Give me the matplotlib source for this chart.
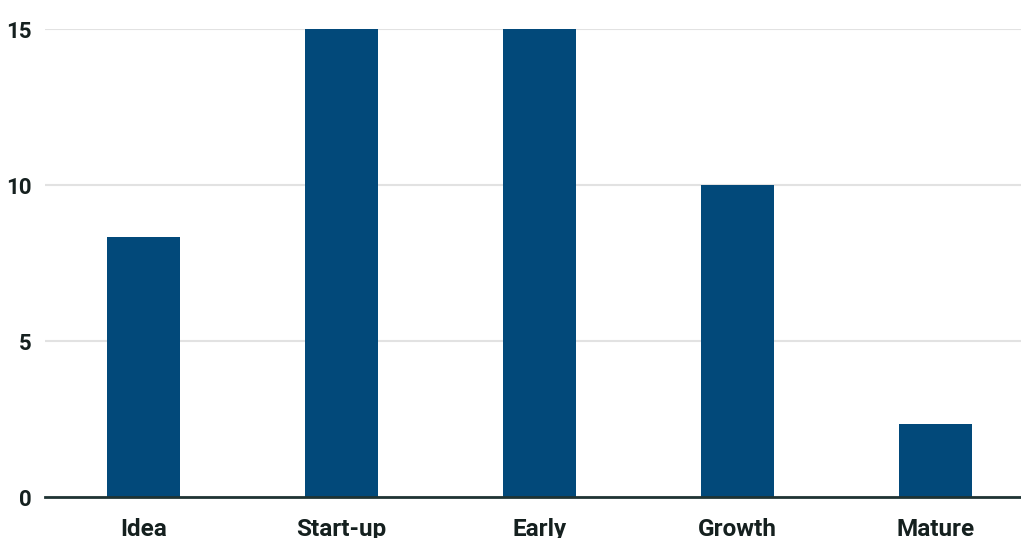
import matplotlib.pyplot as plt

stages = ["Idea", "Start-up", "Early", "Growth", "Mature"]
values = [8.33, 15, 15, 10, 2.33]
yticks = [0, 5, 10, 15]

plt.rcParams['font.family'] = ['Roboto', 'DejaVu Sans']

fig = plt.figure(figsize=(10.21, 5.38), dpi=100)
# plot area runs a little past the right edge of the canvas
ax = fig.add_axes([45 / 1021, 41 / 538, (1034 - 45) / 1021, (497 - 29) / 538])

ax.bar(range(len(stages)), values, width=0.37, color="#02497a", zorder=3, clip_on=False)

ax.set_xlim(-0.5, len(stages) - 0.5)
ax.set_ylim(0, 15)
ax.set_yticks(yticks)
ax.set_xticks(range(len(stages)))
ax.set_xticklabels(stages)

ax.grid(axis="y", color="#e2e2e2", linewidth=1.5, zorder=0)
for side in ["top", "right", "left"]:
    ax.spines[side].set_visible(False)
ax.spines["bottom"].set_color("#1f3333")
ax.spines["bottom"].set_linewidth(2)
ax.spines["bottom"].set_zorder(4)

ax.tick_params(axis="both", length=0, labelcolor="#15201f")
ax.tick_params(axis="y", pad=9.5, labelsize=16)
ax.tick_params(axis="x", pad=15, labelsize=17.5)
for lab in ax.get_xticklabels() + ax.get_yticklabels():
    lab.set_fontweight("semibold")

fig.savefig("out.png", dpi=100)
